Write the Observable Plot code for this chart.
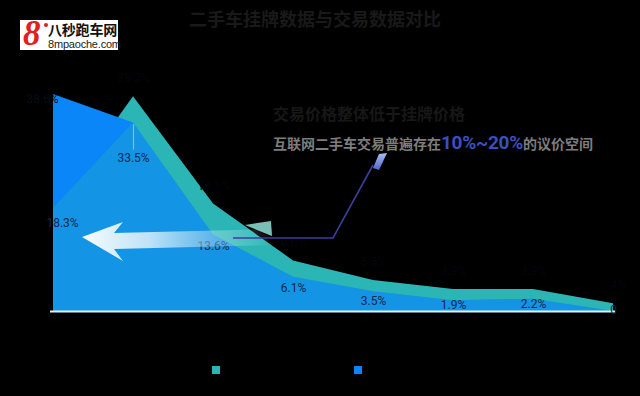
<!DOCTYPE html>
<html>
<head>
<meta charset="utf-8">
<script src="https://cdn.jsdelivr.net/npm/d3@7"></script>
<script src="https://cdn.jsdelivr.net/npm/@observablehq/plot@0.6"></script>
<style>
  html, body { margin: 0; padding: 0; background: #000; }
  #wrap { position: relative; width: 640px; height: 396px; overflow: hidden; background: #000;
          font-family: Roboto, "Noto Sans CJK SC", sans-serif; }
  #chart { position: absolute; left: 0; top: 0; }
  .abs { position: absolute; white-space: nowrap; }
  #title { left: 0; width: 630px; top: 6px; text-align: center; font-size: 18px; line-height: 24px; font-weight: bold;
           color: #191919; font-family: "Noto Sans CJK SC", sans-serif; }
  #logo { left: 20px; top: 20px; width: 98px; height: 30px; background: #fff; }
  #logo .eight { position: absolute; left: 3px; top: -5px; font: italic bold 35px/38px "Liberation Serif", serif; color: #e02020; }
  #logo .dot { position: absolute; left: 24px; top: 3px; width: 4px; height: 4px; border-radius: 2px; background: #e02020; }
  #logo .cn { position: absolute; left: 28px; top: 1px; font: bold 14px/17px "Noto Sans CJK SC", sans-serif; color: #111; letter-spacing: -0.2px; }
  #logo .en { position: absolute; left: 28px; top: 18px; font: 11px/12px "Liberation Sans", sans-serif; color: #222; letter-spacing: -0.2px; }
  #note1 { left: 273px; top: 102px; font-size: 16px; line-height: 22px; font-weight: bold; color: #171717; font-family: "Noto Sans CJK SC", sans-serif; }
  #note2 { left: 273px; top: 131px; font-size: 14px; line-height: 24px; font-weight: bold; color: #7d7d7d; font-family: "Noto Sans CJK SC", sans-serif; }
  #note2 .hl { font-family: Roboto, sans-serif; font-size: 19px; color: #3a4fc0; letter-spacing: -0.3px; }
  .leg { top: 362px; font-size: 12px; line-height: 16px; color: #000; font-family: "Noto Sans CJK SC", sans-serif; }
  .sw { position: absolute; top: 366px; width: 8px; height: 8px; }
  #overlay { position: absolute; left: 0; top: 0; pointer-events: none; }
</style>
</head>
<body>
<div id="wrap">
  <div id="chart"></div>
  <svg id="overlay" width="640" height="396">
    <defs>
      <linearGradient id="arrowGrad" x1="82" y1="0" x2="275" y2="0" gradientUnits="userSpaceOnUse">
        <stop offset="0" stop-color="#ffffff" stop-opacity="0.97"/>
        <stop offset="0.35" stop-color="#e8f6fc" stop-opacity="0.8"/>
        <stop offset="0.7" stop-color="#d6eef8" stop-opacity="0.35"/>
        <stop offset="1" stop-color="#ffffff" stop-opacity="0"/>
      </linearGradient>
      <linearGradient id="flagGrad" x1="0" y1="0" x2="0" y2="1">
        <stop offset="0" stop-color="#a9c0f5"/>
        <stop offset="1" stop-color="#4e62c8"/>
      </linearGradient>
    </defs>
    <path d="M82,237 L123,222 L114,233 L274,229 L274,245 L114,249 L123,261 Z" fill="url(#arrowGrad)"/>
    <path d="M245,225 L271,221 L272,236 Z" fill="#8fe0d6" opacity="0.85"/>
    <polyline points="233,238 333,238 373,165" fill="none" stroke="#3b3f9c" stroke-width="1.6"/>
    <path d="M379,154 L387,153 L379,170 L373,168 Z" fill="url(#flagGrad)"/>
  </svg>
  <div id="title" class="abs">二手车挂牌数据与交易数据对比</div>
  <div id="logo" class="abs">
    <span class="eight">8</span><span class="dot"></span>
    <span class="cn">八秒跑车网</span>
    <span class="en">8mpaoche.com</span>
  </div>
  <div id="note1" class="abs">交易价格整体低于挂牌价格</div>
  <div id="note2" class="abs">互联网二手车交易普遍存在<span class="hl">10%~20%</span>的议价空间</div>
</div>
<script>
// ---- data ----
const categories = ["3万以下", "3-5万", "5-8万", "8-10万", "10-15万", "15-20万", "20-30万", "30万以上"];
const seriesNames = ["挂牌数据", "交易数据"];
const listing = [18.3, 38.2, 19.1, 9.0, 5.5, 3.9, 3.9, 1.4];   // teal series
const deal    = [38.6, 33.5, 13.6, 6.1, 3.5, 1.9, 2.2, 0];     // blue series
const yMax = 40;

const teal = "#2bb6b5", blue = "#0b86f8", labelColor = "#0d2a50";
const fmt = v => v === 0 ? "0" : v.toFixed(1) + "%";

const rows = categories.map((c, i) => ({cat: c, i, listing: listing[i], deal: deal[i]}));

const chart = Plot.plot({
  width: 640,
  height: 396,
  marginLeft: 50, marginRight: 25, marginTop: 86, marginBottom: 85,
  style: {background: "transparent", color: "#000", fontFamily: "Roboto, 'Noto Sans CJK SC', sans-serif", fontSize: "12px"},
  x: {type: "point", domain: categories, range: [50, 615], padding: 0, axis: null},
  y: {domain: [0, yMax], range: [311, 86], axis: null},
  marks: [
    Plot.areaY(rows, {x: "cat", y: "listing", fill: teal}),
    Plot.areaY(rows, {x: "cat", y: "deal", fill: blue}),
    Plot.areaY(rows, {x: "cat", y: d => Math.min(d.listing, d.deal), fill: teal, fillOpacity: 0.3}),
    Plot.ruleY([0], {stroke: "#e2f1ff", strokeWidth: 2}),
    Plot.axisX({y: 0, tickSize: 0, dy: 14, fill: "#000", color: "#000", fontSize: 12}),
    // label line for the peak deal label
    Plot.ruleX(rows.filter(d => d.i === 1), {x: "cat", y1: d => d.deal - 0.3, y2: d => d.deal - 4.8, stroke: "#9fb3c6", strokeWidth: 1.2}),
    // deal labels
    Plot.text(rows.filter(d => d.i === 0), {x: "cat", y: "deal", text: d => fmt(d.deal), dx: -11, dy: 5, fill: "#040c18"}),
    Plot.text(rows.filter(d => d.i === 1), {x: "cat", y: "deal", text: d => fmt(d.deal), dy: 35, fill: labelColor}),
    Plot.text(rows.filter(d => d.i > 1), {x: "cat", y: d => Math.max(d.deal - 2.2, d.deal / 2), text: d => fmt(d.deal), dy: -1, fill: labelColor}),
    // listing labels
    Plot.text(rows.filter(d => d.i === 0), {x: "cat", y: "listing", text: d => fmt(d.listing), dx: 9, dy: 15, fill: labelColor}),
    Plot.text(rows.filter(d => d.i > 0), {x: "cat", y: "listing", text: d => fmt(d.listing), dy: -18, fill: "#03060b"})
  ]
});
document.getElementById("chart").appendChild(chart);

// legend (swatches from the same colours)
const wrap = document.getElementById("wrap");
[[teal, 212], ["#0a84ff", 354]].forEach(([col, x], k) => {
  const sw = document.createElement("div");
  sw.className = "sw"; sw.style.left = x + "px"; sw.style.background = col;
  wrap.appendChild(sw);
  const lb = document.createElement("div");
  lb.className = "abs leg"; lb.style.left = (x + 13) + "px"; lb.textContent = seriesNames[k];
  wrap.appendChild(lb);
});
</script>
</body>
</html>
